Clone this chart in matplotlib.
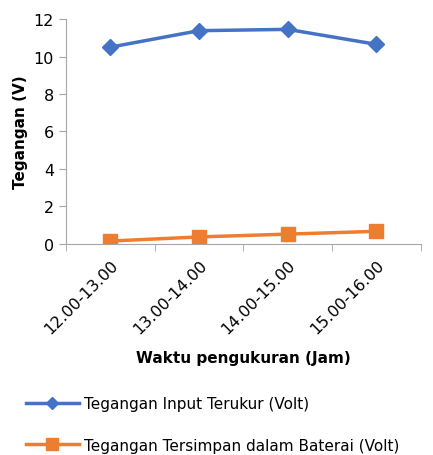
import matplotlib.pyplot as plt
from matplotlib.lines import Line2D

# data
waktu = ['12.00-13.00', '13.00-14.00', '14.00-15.00', '15.00-16.00']
tegangan_input = [10.5, 11.38, 11.45, 10.65]
tegangan_baterai = [0.15, 0.37, 0.52, 0.67]

BLUE = '#4472C4'
ORANGE = '#ED7D31'
GRAY = '#A6A6A6'


def plot_tegangan():
    fig = plt.figure(figsize=(4.33, 4.56), dpi=100)
    ax = fig.add_axes([0.152, 0.463, 0.820, 0.493])

    x = list(range(len(waktu)))
    ax.plot(x, tegangan_input, color=BLUE, lw=2.5, marker='D', ms=8,
            label='Tegangan Input Terukur (Volt)')
    ax.plot(x, tegangan_baterai, color=ORANGE, lw=2.5, marker='s', ms=10,
            label='Tegangan Tersimpan dalam Baterai (Volt)')

    ax.set_xlim(-0.5, len(waktu) - 0.5)
    ax.set_ylim(0, 12)
    ax.set_yticks(range(0, 13, 2))
    ax.set_xticks(x)
    ax.set_xticklabels(waktu, rotation=45, ha='right', rotation_mode='anchor',
                       fontsize=11.5)
    ax.set_xticks([i - 0.5 for i in range(len(waktu) + 1)], minor=True)
    ax.tick_params(axis='x', which='major', length=0, pad=9)
    ax.tick_params(axis='x', which='minor', length=5, color=GRAY)
    ax.tick_params(axis='y', length=5, color=GRAY, labelsize=11.5)

    for side in ['top', 'right']:
        ax.spines[side].set_visible(False)
    for side in ['left', 'bottom']:
        ax.spines[side].set_color(GRAY)

    ax.set_ylabel('Tegangan (V)', fontsize=11, fontweight='bold')
    ax.set_xlabel('Waktu pengukuran (Jam)', fontsize=11, fontweight='bold',
                  labelpad=10)

    handles = [
        Line2D([], [], color=BLUE, lw=2.5, marker='D', ms=6),
        Line2D([], [], color=ORANGE, lw=2.5, marker='s', ms=9),
    ]
    labels = ['Tegangan Input Terukur (Volt)',
              'Tegangan Tersimpan dalam Baterai (Volt)']
    fig.legend(handles, labels, loc='upper left', bbox_to_anchor=(0.045, 0.143),
               frameon=False, fontsize=11, handlelength=3.5, handletextpad=0.3,
               labelspacing=1.75, borderaxespad=0)


if __name__ == '__main__':
    plot_tegangan()
    plt.savefig('out.png', dpi=100)
